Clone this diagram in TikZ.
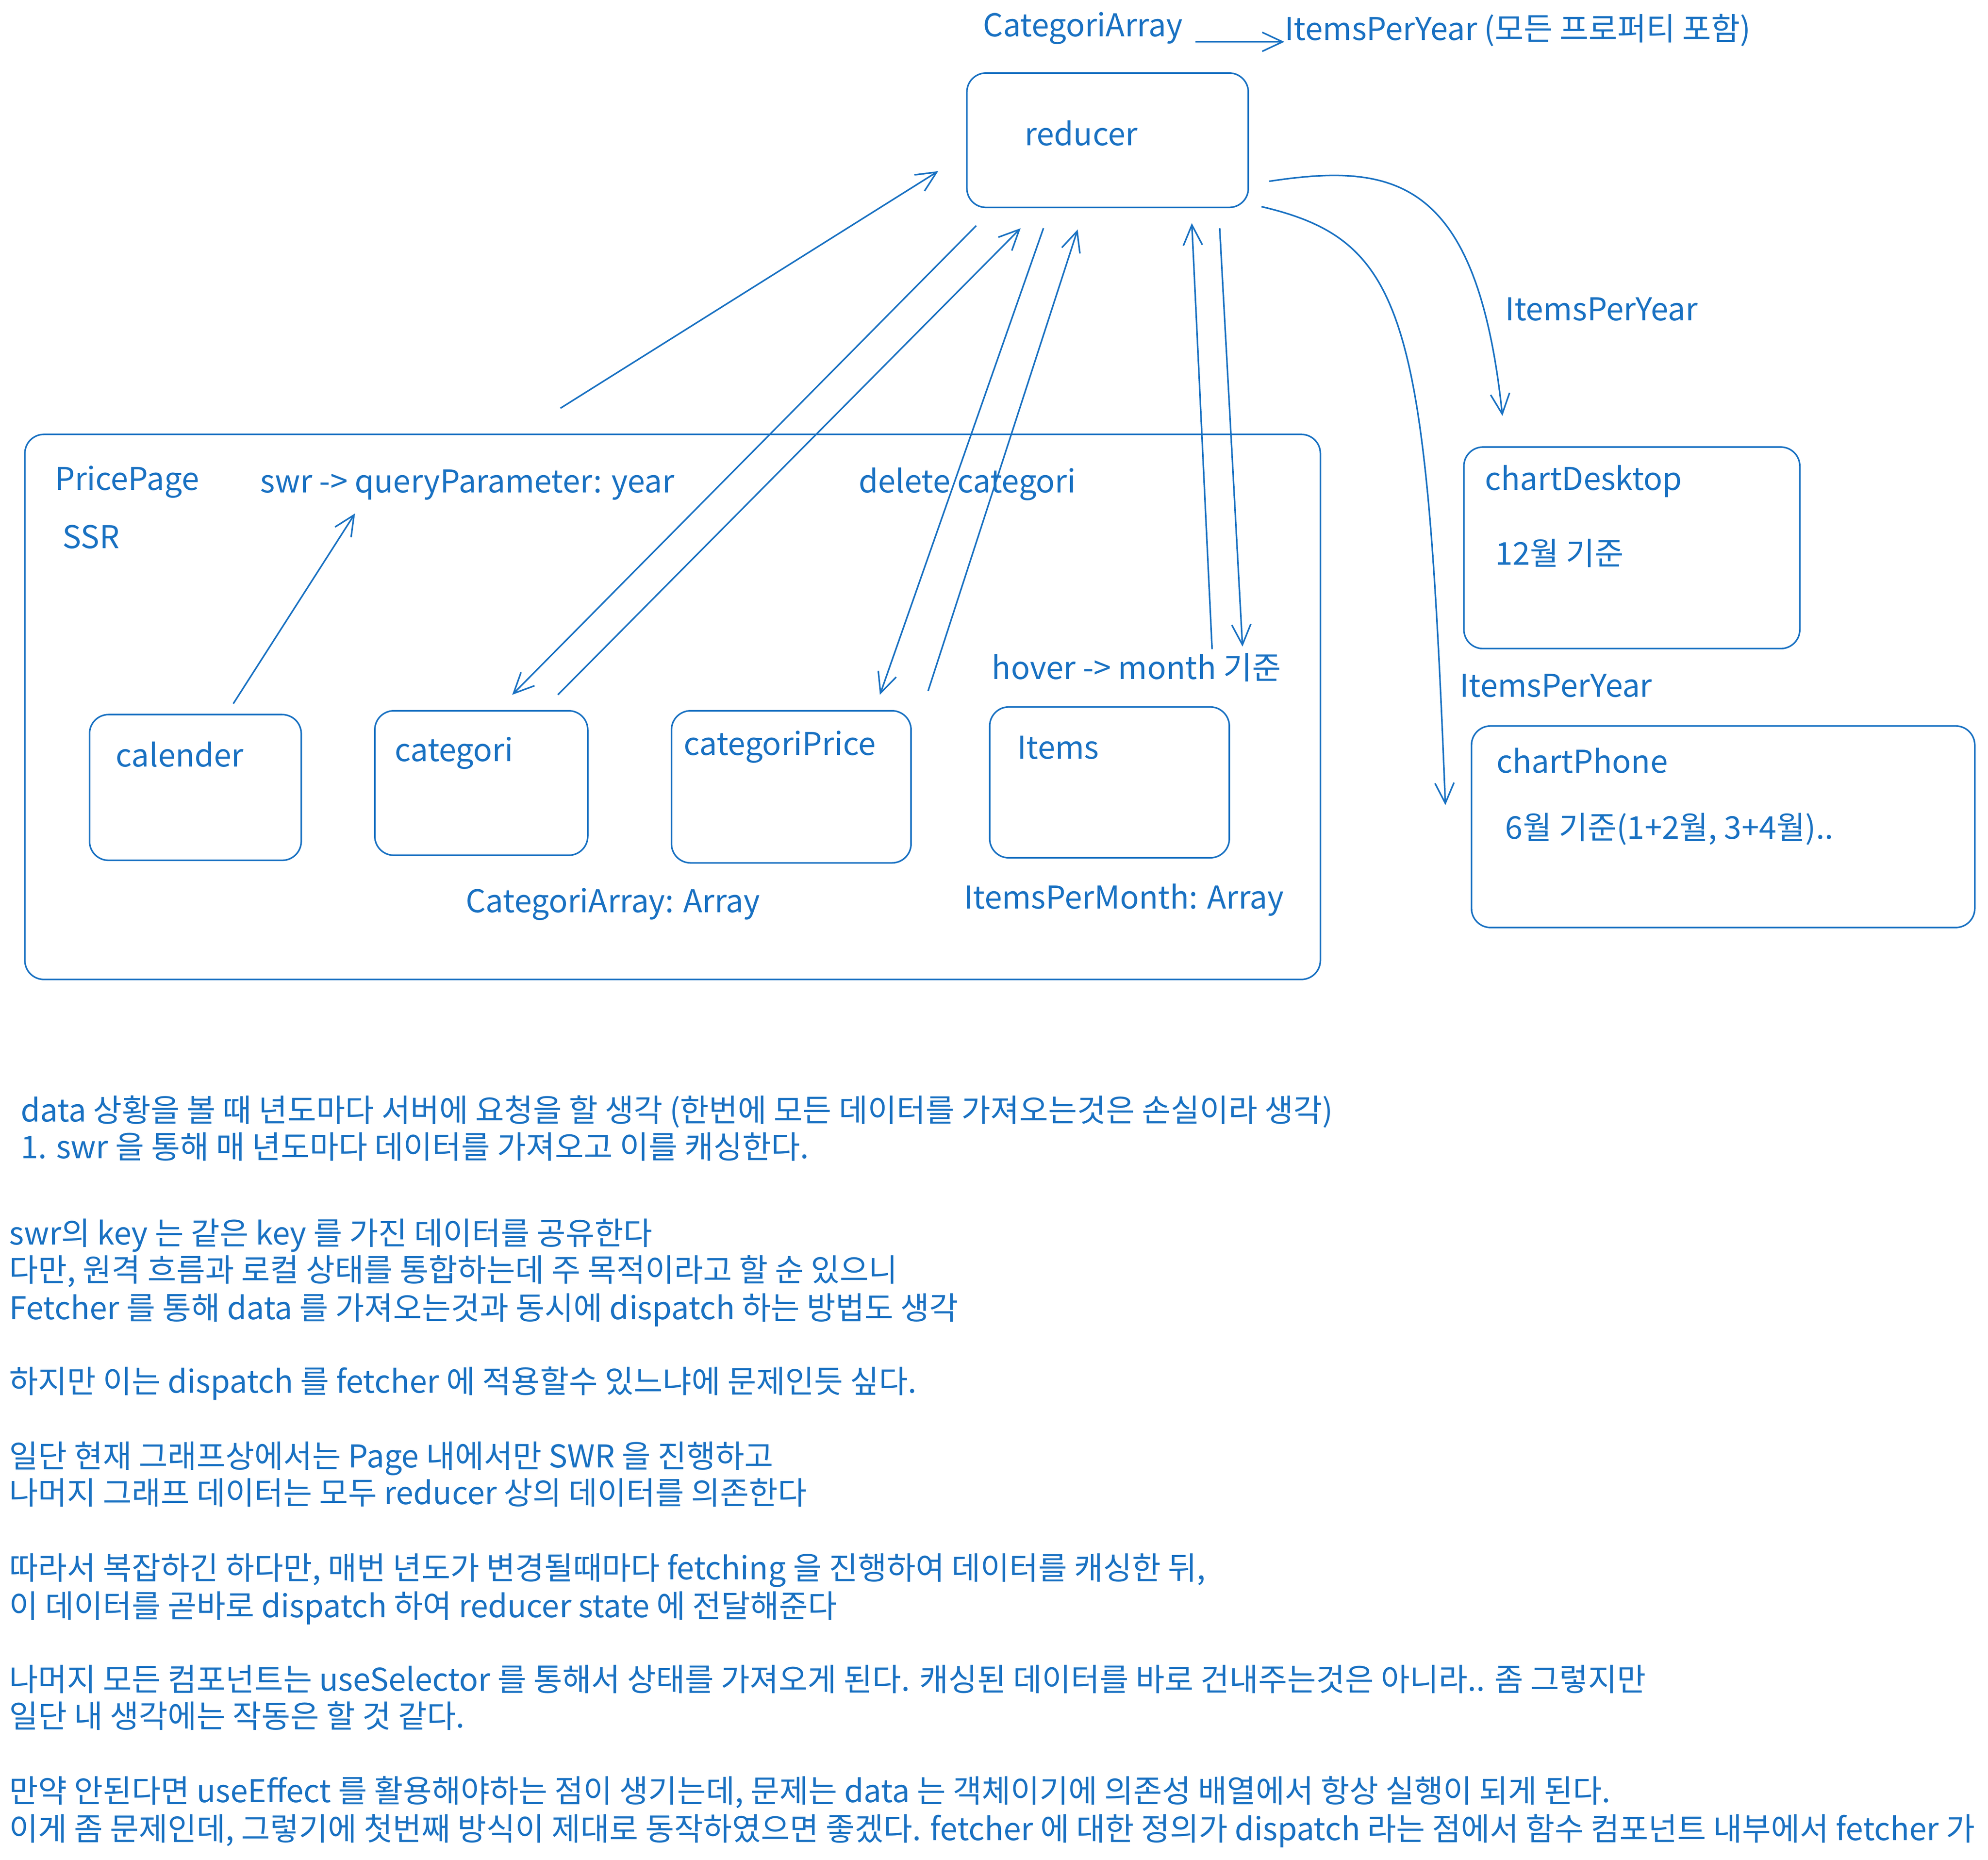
\documentclass[tikz,border=0pt]{standalone}
\usepackage{fontspec}
\setmainfont{Noto Sans CJK KR}
\usetikzlibrary{arrows.meta}
\definecolor{exblue}{RGB}{25,113,194}
\begin{document}
\begin{tikzpicture}[x=0.02cm,y=-0.02cm,
  txt/.style={anchor=west, inner sep=0pt, text height=0.76em, text depth=0pt,
    font=\fontsize{14.1}{17}\selectfont, text=exblue},
  box/.style={draw=exblue, line width=0.7pt, rounded corners=0.3cm, anchor=north west, inner sep=0pt},
  link/.style={draw=exblue, line width=0.7pt, -{Straight Barb[length=0.32cm,width=0.3cm]}}]
\useasboundingbox (0,0) rectangle (1568,1467);

% boxes
\node[box, minimum width=4.44cm, minimum height=2.12cm] (reducer) at (762,57) {};
\node[box, minimum width=20.44cm, minimum height=8.6cm] (page) at (19,342) {};
\node[box, minimum width=3.34cm, minimum height=2.3cm] (calbox) at (70,563) {};
\node[box, minimum width=3.36cm, minimum height=2.28cm] (catbox) at (295,560) {};
\node[box, minimum width=3.78cm, minimum height=2.4cm] (cpbox) at (529,560) {};
\node[box, minimum width=3.78cm, minimum height=2.38cm] (itbox) at (780,557) {};
\node[box, minimum width=5.3cm, minimum height=3.18cm] (cdbox) at (1154,352) {};
\node[box, minimum width=7.94cm, minimum height=3.18cm] (cphbox) at (1160,572) {};

% diagram texts
\node[txt] (tca) at (775,22) {CategoriArray};
\node[txt] (tipy) at (1013,25) {ItemsPerYear (모든 프로퍼티 포함)};
\node[txt] (tred) at (808,108) {reducer};
\node[txt] (tpp) at (43,380) {PricePage};
\node[txt] (tssr) at (49,426) {SSR};
\node[txt] (tswr) at (205,382) {swr -> queryParameter: year};
\node[txt] (tdel) at (677,382) {delete categori};
\node[txt] (tcal) at (91,598) {calender};
\node[txt] (tcat) at (311,594) {categori};
\node[txt] (tcp) at (539,589) {categoriPrice};
\node[txt] (tit) at (802,592) {Items};
\node[txt] (thov) at (782,529) {hover -> month 기준};
\node[txt] (tcaa) at (367,713) {CategoriArray: Array};
\node[txt] (tipm) at (760,710) {ItemsPerMonth: Array};
\node[txt] (tcd) at (1171,380) {chartDesktop};
\node[txt] (t12) at (1179,439) {12월 기준};
\node[txt] (tcph) at (1180,603) {chartPhone};
\node[txt] (t6) at (1187,655) {6월 기준(1+2월, 3+4월)..};
\node[txt] (tipy1) at (1187,246) {ItemsPerYear};
\node[txt] (tipy2) at (1151,543) {ItemsPerYear};

% connector end points
\coordinate (c0a) at (943,33);  \coordinate (c0b) at (1013,33);
\coordinate (c1a) at (442,322); \coordinate (c1b) at (740,135);
\coordinate (c2a) at (770,178); \coordinate (c2b) at (404,548);
\coordinate (c3a) at (440,548); \coordinate (c3b) at (805,180);
\coordinate (c4a) at (823,180); \coordinate (c4b) at (694,548);
\coordinate (c5a) at (732,545); \coordinate (c5b) at (850,181);
\coordinate (c6a) at (956,512); \coordinate (c6b) at (940,176);
\coordinate (c7a) at (962,180); \coordinate (c7b) at (980,510);
\coordinate (c8a) at (184,555); \coordinate (c8b) at (280,405);
\coordinate (c9a) at (1001,143); \coordinate (c9b) at (1185,328);
\coordinate (c10a) at (995,163); \coordinate (c10b) at (1140,635);

\draw[link] (c0a) -- (c0b);
\draw[link] (c1a) -- (c1b);
\draw[link] (c2a) -- (c2b);
\draw[link] (c3a) -- (c3b);
\draw[link] (c4a) -- (c4b);
\draw[link] (c5a) -- (c5b);
\draw[link] (c6a) -- (c6b);
\draw[link] (c7a) -- (c7b);
\draw[link] (c8a) -- (c8b);
\draw[link] (c9a) .. controls (1100,128) and (1165,140) .. (c9b);
\draw[link] (c10a) .. controls (1110,190) and (1125,250) .. (c10b);

% notes
\node[txt] (n1) at (16,878) {data 상황을 볼 때 년도마다 서버에 요청을 할 생각 (한번에 모든 데이터를 가져오는것은 손실이라 생각)};
\node[txt] (n2) at (16,907) {1. swr 을 통해 매 년도마다 데이터를 가져오고 이를 캐싱한다.};
\node[txt] (n3) at (7,975) {swr의 key 는 같은 key 를 가진 데이터를 공유한다};
\node[txt] (n4) at (7,1004) {다만, 원격 흐름과 로컬 상태를 통합하는데 주 목적이라고 할 순 있으니};
\node[txt] (n5) at (7,1034) {Fetcher 를 통해 data 를 가져오는것과 동시에 dispatch 하는 방법도 생각};
\node[txt] (n6) at (7,1092) {하지만 이는 dispatch 를 fetcher 에 적용할수 있느냐에 문제인듯 싶다.};
\node[txt] (n7) at (7,1151) {일단 현재 그래프상에서는 Page 내에서만 SWR 을 진행하고};
\node[txt] (n8) at (7,1180) {나머지 그래프 데이터는 모두 reducer 상의 데이터를 의존한다};
\node[txt] (n9) at (7,1239) {따라서 복잡하긴 하다만, 매번 년도가 변경될때마다 fetching 을 진행하여 데이터를 캐싱한 뒤,};
\node[txt] (n10) at (7,1269) {이 데이터를 곧바로 dispatch 하여 reducer state 에 전달해준다};
\node[txt] (n11) at (7,1327) {나머지 모든 컴포넌트는 useSelector 를 통해서 상태를 가져오게 된다. 캐싱된 데이터를 바로 건내주는것은 아니라.. 좀 그렇지만};
\node[txt] (n12) at (7,1356) {일단 내 생각에는 작동은 할 것 같다.};
\node[txt] (n13) at (7,1415) {만약 안된다면 useEffect 를 활용해야하는 점이 생기는데, 문제는 data 는 객체이기에 의존성 배열에서 항상 실행이 되게 된다.};
\node[txt] (n14) at (7,1445) {이게 좀 문제인데, 그렇기에 첫번째 방식이 제대로 동작하였으면 좋겠다. fetcher 에 대한 정의가 dispatch 라는 점에서 함수 컴포넌트 내부에서 fetcher 가};
\end{tikzpicture}
\end{document}
